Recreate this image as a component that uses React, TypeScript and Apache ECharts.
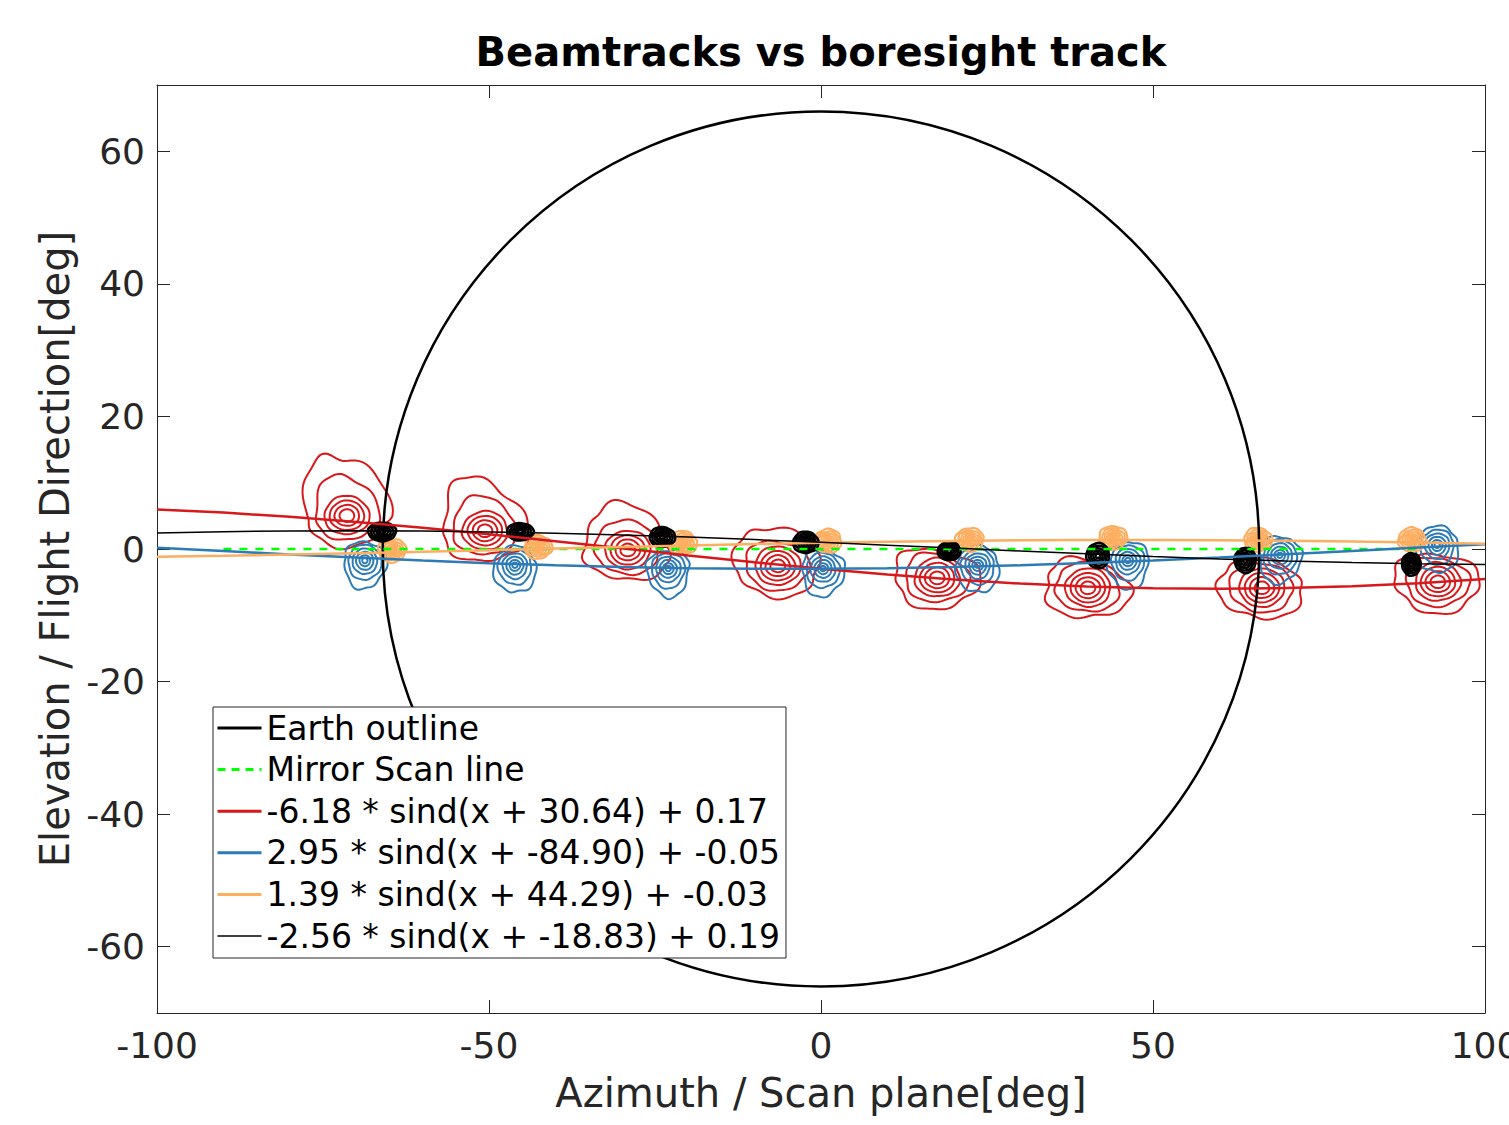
import React, { useEffect, useRef } from "react";
import * as echarts from "echarts";

// ---------- data ----------
const xTicks = [-100, -50, 0, 50, 100];
const yTicks = [-60, -40, -20, 0, 20, 40, 60];

const fitX = [-100, -90, -80, -70, -60, -50, -40, -30, -20, -10, 0, 10, 20, 30, 40, 50, 60, 70, 80, 90, 100];
const redFit = [5.95, 5.49, 4.86, 4.09, 3.2, 2.22, 1.17, 0.1, -0.97, -2.01, -2.98, -3.85, -4.61, -5.22, -5.66, -5.93, -6.01, -5.9, -5.61, -5.15, -4.52];
const blueFit = [0.2, -0.31, -0.82, -1.3, -1.75, -2.14, -2.47, -2.73, -2.9, -2.99, -2.99, -2.9, -2.72, -2.46, -2.13, -1.74, -1.29, -0.81, -0.3, 0.21, 0.72];
const orangeFit = [-1.18, -1.03, -0.84, -0.63, -0.41, -0.17, 0.07, 0.31, 0.54, 0.75, 0.94, 1.1, 1.22, 1.31, 1.35, 1.36, 1.32, 1.24, 1.12, 0.97, 0.78];
const blackFit = [2.43, 2.61, 2.72, 2.75, 2.7, 2.58, 2.38, 2.12, 1.8, 1.42, 1.02, 0.58, 0.14, -0.31, -0.73, -1.14, -1.5, -1.8, -2.05, -2.23, -2.34];

const scanLineX = [-90, 90];
const scanLineY = [0, 0];

const earthCenter = [0, 0];
const earthRadius = 66;

// red beam contours: [x, y, upward extent of outer contour]
const redBlobs = [
  [-71.4, 5.0, 9.5],
  [-50.6, 2.7, 8.0],
  [-29.1, -0.2, 7.0],
  [-6.5, -2.6, 6.0],
  [17.5, -4.4, 4.5],
  [40.2, -5.9, 4.2],
  [66.4, -5.9, 3.2],
  [92.9, -5.0, 3.2],
];
// blue beam contours: [x, y]
const blueBlobs = [
  [-68.7, -1.7],
  [-46.1, -2.4],
  [-23.0, -2.9],
  [0.3, -2.9],
  [23.6, -2.4],
  [46.2, -1.7],
  [69.1, -0.9],
  [92.8, 0.6],
];
// orange beam contours: [x, y]
const orangeBlobs = [
  [-64.6, -0.2],
  [-42.6, 0.3],
  [-20.8, 0.9],
  [1.0, 1.2],
  [22.4, 1.4],
  [44.0, 1.7],
  [65.8, 1.4],
  [89.0, 1.4],
];
// boresight (black) contours: [x, y, half width, half height]
const blackBlobs = [
  [-66.1, 2.6, 2.1, 1.4],
  [-45.3, 2.6, 2.0, 1.3],
  [-23.9, 1.8, 1.9, 1.5],
  [-2.3, 1.0, 1.9, 1.6],
  [19.3, -0.3, 1.7, 1.4],
  [41.7, -1.0, 1.7, 1.9],
  [63.9, -1.7, 1.6, 1.9],
  [88.9, -2.3, 1.4, 1.7],
];

const legendNames = [
  "Earth outline",
  "Mirror Scan line",
  "-6.18 * sind(x + 30.64) + 0.17",
  "2.95 * sind(x + -84.90) + -0.05",
  "1.39 * sind(x + 44.29) + -0.03",
  "-2.56 * sind(x + -18.83) + 0.19",
];

// ---------- styles ----------
const RED = "#d7191c";
const BLUE = "#2c7bb6";
const ORANGE = "#fdae61";
const GREEN = "#00ff00";
const AXIS = "#262626";
const FONT = '"DejaVu Sans", sans-serif';

function ring(api: any, cx: number, cy: number, rx: number, up: number, down: number, skew: number, wob: number, seed: number) {
  const pts: number[][] = [];
  const N = 90;
  for (let i = 0; i < N; i++) {
    const t = (2 * Math.PI * i) / N;
    const c = Math.cos(t);
    const s = Math.sin(t);
    const f = 1 + wob * (0.6 * Math.sin(3 * t + seed) + 0.4 * Math.sin(7 * t + 2.3 * seed));
    const lean = s > 0 ? skew * s * s : 0;
    const dx = rx * c * f + lean;
    const dy = (s > 0 ? up : down) * s * f;
    pts.push(api.coord([cx + dx, cy + dy]));
  }
  return pts;
}

function polys(list: number[][][], color: string, lw: number) {
  return list.map((points) => ({
    type: "polygon",
    shape: { points },
    style: { fill: "none", stroke: color, lineWidth: lw },
  }));
}

function renderRed(params: any, api: any) {
  const cx = api.value(0);
  const cy = api.value(1);
  const T = api.value(2);
  const seed = params.dataIndex * 1.7 + 0.5;
  const rings = [
    ring(api, cx, cy, 6.4, Math.max(T, 4.4), 4.6, -1.8, 0.11, seed),
    ring(api, cx, cy, 4.8, Math.max(0.65 * T, 3.8), 3.6, -1.0, 0.07, seed + 1),
    ring(api, cx, cy, 3.4, 3.0, 2.8, 0, 0.04, seed + 2),
    ring(api, cx, cy, 2.6, 2.3, 2.15, 0, 0.02, seed + 3),
    ring(api, cx, cy, 1.85, 1.65, 1.5, 0, 0.02, seed + 4),
    ring(api, cx, cy, 1.1, 1.0, 0.9, 0, 0.02, seed + 5),
  ];
  return { type: "group", children: polys(rings, RED, 2) };
}

function renderBlue(params: any, api: any) {
  const cx = api.value(0);
  const cy = api.value(1);
  const seed = params.dataIndex * 2.1 + 1.3;
  const rings = [
    ring(api, cx, cy, 3.2, 2.8, 4.3, 0, 0.1, seed),
    ring(api, cx, cy, 2.5, 2.3, 3.0, 0, 0.06, seed + 1),
    ring(api, cx, cy, 1.85, 1.75, 2.1, 0, 0.04, seed + 2),
    ring(api, cx, cy, 1.3, 1.25, 1.45, 0, 0.03, seed + 3),
    ring(api, cx, cy, 0.8, 0.75, 0.9, 0, 0.02, seed + 4),
    ring(api, cx, cy, 0.4, 0.35, 0.45, 0, 0.02, seed + 5),
  ];
  return { type: "group", children: polys(rings, BLUE, 2) };
}

function renderOrange(params: any, api: any) {
  const cx = api.value(0);
  const cy = api.value(1);
  const seed = params.dataIndex * 1.3 + 0.2;
  const k = [2.1, 1.7, 1.35, 1.0, 0.7, 0.42, 0.18];
  const rings = k.map((r, i) => ring(api, cx, cy, r, r * 0.85, r * 0.85, 0, 0.07, seed + i));
  return { type: "group", children: polys(rings, ORANGE, 2.2) };
}

function renderBlack(params: any, api: any) {
  const cx = api.value(0);
  const cy = api.value(1);
  const rx = api.value(2);
  const ry = api.value(3);
  const seed = params.dataIndex * 0.9;
  const k = [1, 0.8, 0.6, 0.4, 0.2];
  const rings = k.map((f, i) => ring(api, cx, cy, rx * f, ry * f, ry * f, 0, 0.04, seed + i));
  return { type: "group", children: polys(rings, "#000", 2.6) };
}

function renderEarth(_params: any, api: any) {
  const c = api.coord([api.value(0), api.value(1)]);
  const s = api.size([api.value(2), api.value(2)]);
  return {
    type: "ellipse",
    shape: { cx: c[0], cy: c[1], rx: s[0], ry: s[1] },
    style: { fill: "none", stroke: "#000", lineWidth: 2.5 },
  };
}

const pairs = (xs: number[], ys: number[]) => xs.map((x, i) => [x, ys[i]]);

export default function App() {
  const ref = useRef<HTMLDivElement>(null);
  useEffect(() => {
    if (!ref.current) return;
    const chart = echarts.init(ref.current, undefined, { renderer: "svg" });

    const baseX = {
      type: "value",
      min: -100,
      max: 100,
      interval: 50,
      splitLine: { show: false },
      axisLine: { show: true, onZero: false, lineStyle: { color: AXIS, width: 1 } },
      axisTick: { show: true, inside: true, length: 13, lineStyle: { color: AXIS, width: 1 } },
    };
    const baseY = {
      type: "value",
      min: -70,
      max: 70,
      splitLine: { show: false },
      axisLine: { show: true, onZero: false, lineStyle: { color: AXIS, width: 1 } },
      axisTick: { show: true, inside: true, length: 13, customValues: yTicks, lineStyle: { color: AXIS, width: 1 } },
    };

    const legendStyles = [
      { color: "#000", width: 3, type: "solid" },
      { color: GREEN, width: 3, type: [8, 6] },
      { color: RED, width: 3, type: "solid" },
      { color: BLUE, width: 3, type: "solid" },
      { color: ORANGE, width: 3, type: "solid" },
      { color: "#000", width: 1.5, type: "solid" },
    ];

    chart.setOption({
      animation: false,
      backgroundColor: "#fff",
      grid: { left: 157, top: 85, width: 1328, height: 928, containLabel: false, outerBoundsMode: "none" },
      graphic: [
        {
          type: "text",
          x: 821,
          y: 52,
          style: {
            text: "Beamtracks vs boresight track",
            fill: "#000",
            fontSize: 40,
            fontWeight: "bold",
            fontFamily: FONT,
            align: "center",
            verticalAlign: "middle",
          },
        },
      ],
      xAxis: [
        {
          ...baseX,
          position: "bottom",
          axisLabel: { show: true, customValues: xTicks, fontSize: 36, color: AXIS, fontFamily: FONT, margin: 14 },
          name: "Azimuth / Scan plane[deg]",
          nameLocation: "middle",
          nameGap: 60,
          nameTextStyle: { fontSize: 40, color: AXIS, fontFamily: FONT },
        },
        { ...baseX, position: "top", axisLabel: { show: false } },
      ],
      yAxis: [
        {
          ...baseY,
          position: "left",
          axisLabel: { show: true, customValues: yTicks, fontSize: 36, color: AXIS, fontFamily: FONT, margin: 12 },
          name: "Elevation / Flight Direction[deg]",
          nameLocation: "middle",
          nameGap: 76,
          nameTextStyle: { fontSize: 40, color: AXIS, fontFamily: FONT },
        },
        { ...baseY, position: "right", axisLabel: { show: false } },
      ],
      legend: {
        data: legendNames.map((name, i) => ({ name, lineStyle: legendStyles[i] })),
        orient: "vertical",
        left: 213,
        top: 707,
        padding: [3, 6, 4, 3],
        itemWidth: 44,
        itemHeight: 14,
        itemGap: 5.6,
        backgroundColor: "#fff",
        borderColor: AXIS,
        borderWidth: 1,
        borderRadius: 0,
        selectedMode: false,
        itemStyle: { color: "rgba(0,0,0,0)", borderWidth: 0, opacity: 0 },
        textStyle: { fontSize: 33, lineHeight: 36, color: "#000", fontFamily: FONT },
      },
      series: [
        { type: "custom", name: "redContours", renderItem: renderRed, data: redBlobs, clip: true, silent: true, z: 2 },
        { type: "custom", name: "blueContours", renderItem: renderBlue, data: blueBlobs, clip: true, silent: true, z: 2 },
        { type: "custom", name: "orangeContours", renderItem: renderOrange, data: orangeBlobs, clip: true, silent: true, z: 2 },
        { type: "custom", name: "blackContours", renderItem: renderBlack, data: blackBlobs, clip: true, silent: true, z: 2 },
        { type: "custom", name: "earthCircle", renderItem: renderEarth, data: [[earthCenter[0], earthCenter[1], earthRadius]], clip: true, silent: true, z: 3 },
        {
          type: "line",
          name: legendNames[0],
          data: [],
          symbol: "none",
          lineStyle: { color: "#000", width: 2.5 },
          itemStyle: { color: "#000" },
        },
        {
          type: "line",
          name: legendNames[1],
          data: pairs(scanLineX, scanLineY),
          symbol: "none",
          z: 4,
          lineStyle: { color: GREEN, width: 2.5, type: [8, 8] },
          itemStyle: { color: GREEN },
        },
        {
          type: "line",
          name: legendNames[2],
          data: pairs(fitX, redFit),
          symbol: "none",
          z: 5,
          lineStyle: { color: RED, width: 2.5 },
          itemStyle: { color: RED },
        },
        {
          type: "line",
          name: legendNames[3],
          data: pairs(fitX, blueFit),
          symbol: "none",
          z: 5,
          lineStyle: { color: BLUE, width: 2.5 },
          itemStyle: { color: BLUE },
        },
        {
          type: "line",
          name: legendNames[4],
          data: pairs(fitX, orangeFit),
          symbol: "none",
          z: 5,
          lineStyle: { color: ORANGE, width: 2.5 },
          itemStyle: { color: ORANGE },
        },
        {
          type: "line",
          name: legendNames[5],
          data: pairs(fitX, blackFit),
          symbol: "none",
          z: 5,
          lineStyle: { color: "#000", width: 1.5 },
          itemStyle: { color: "#000" },
        },
      ],
    });
    return () => chart.dispose();
  }, []);

  return <div ref={ref} style={{ position: "absolute", left: 0, top: 0, width: 1509, height: 1125 }} />;
}
